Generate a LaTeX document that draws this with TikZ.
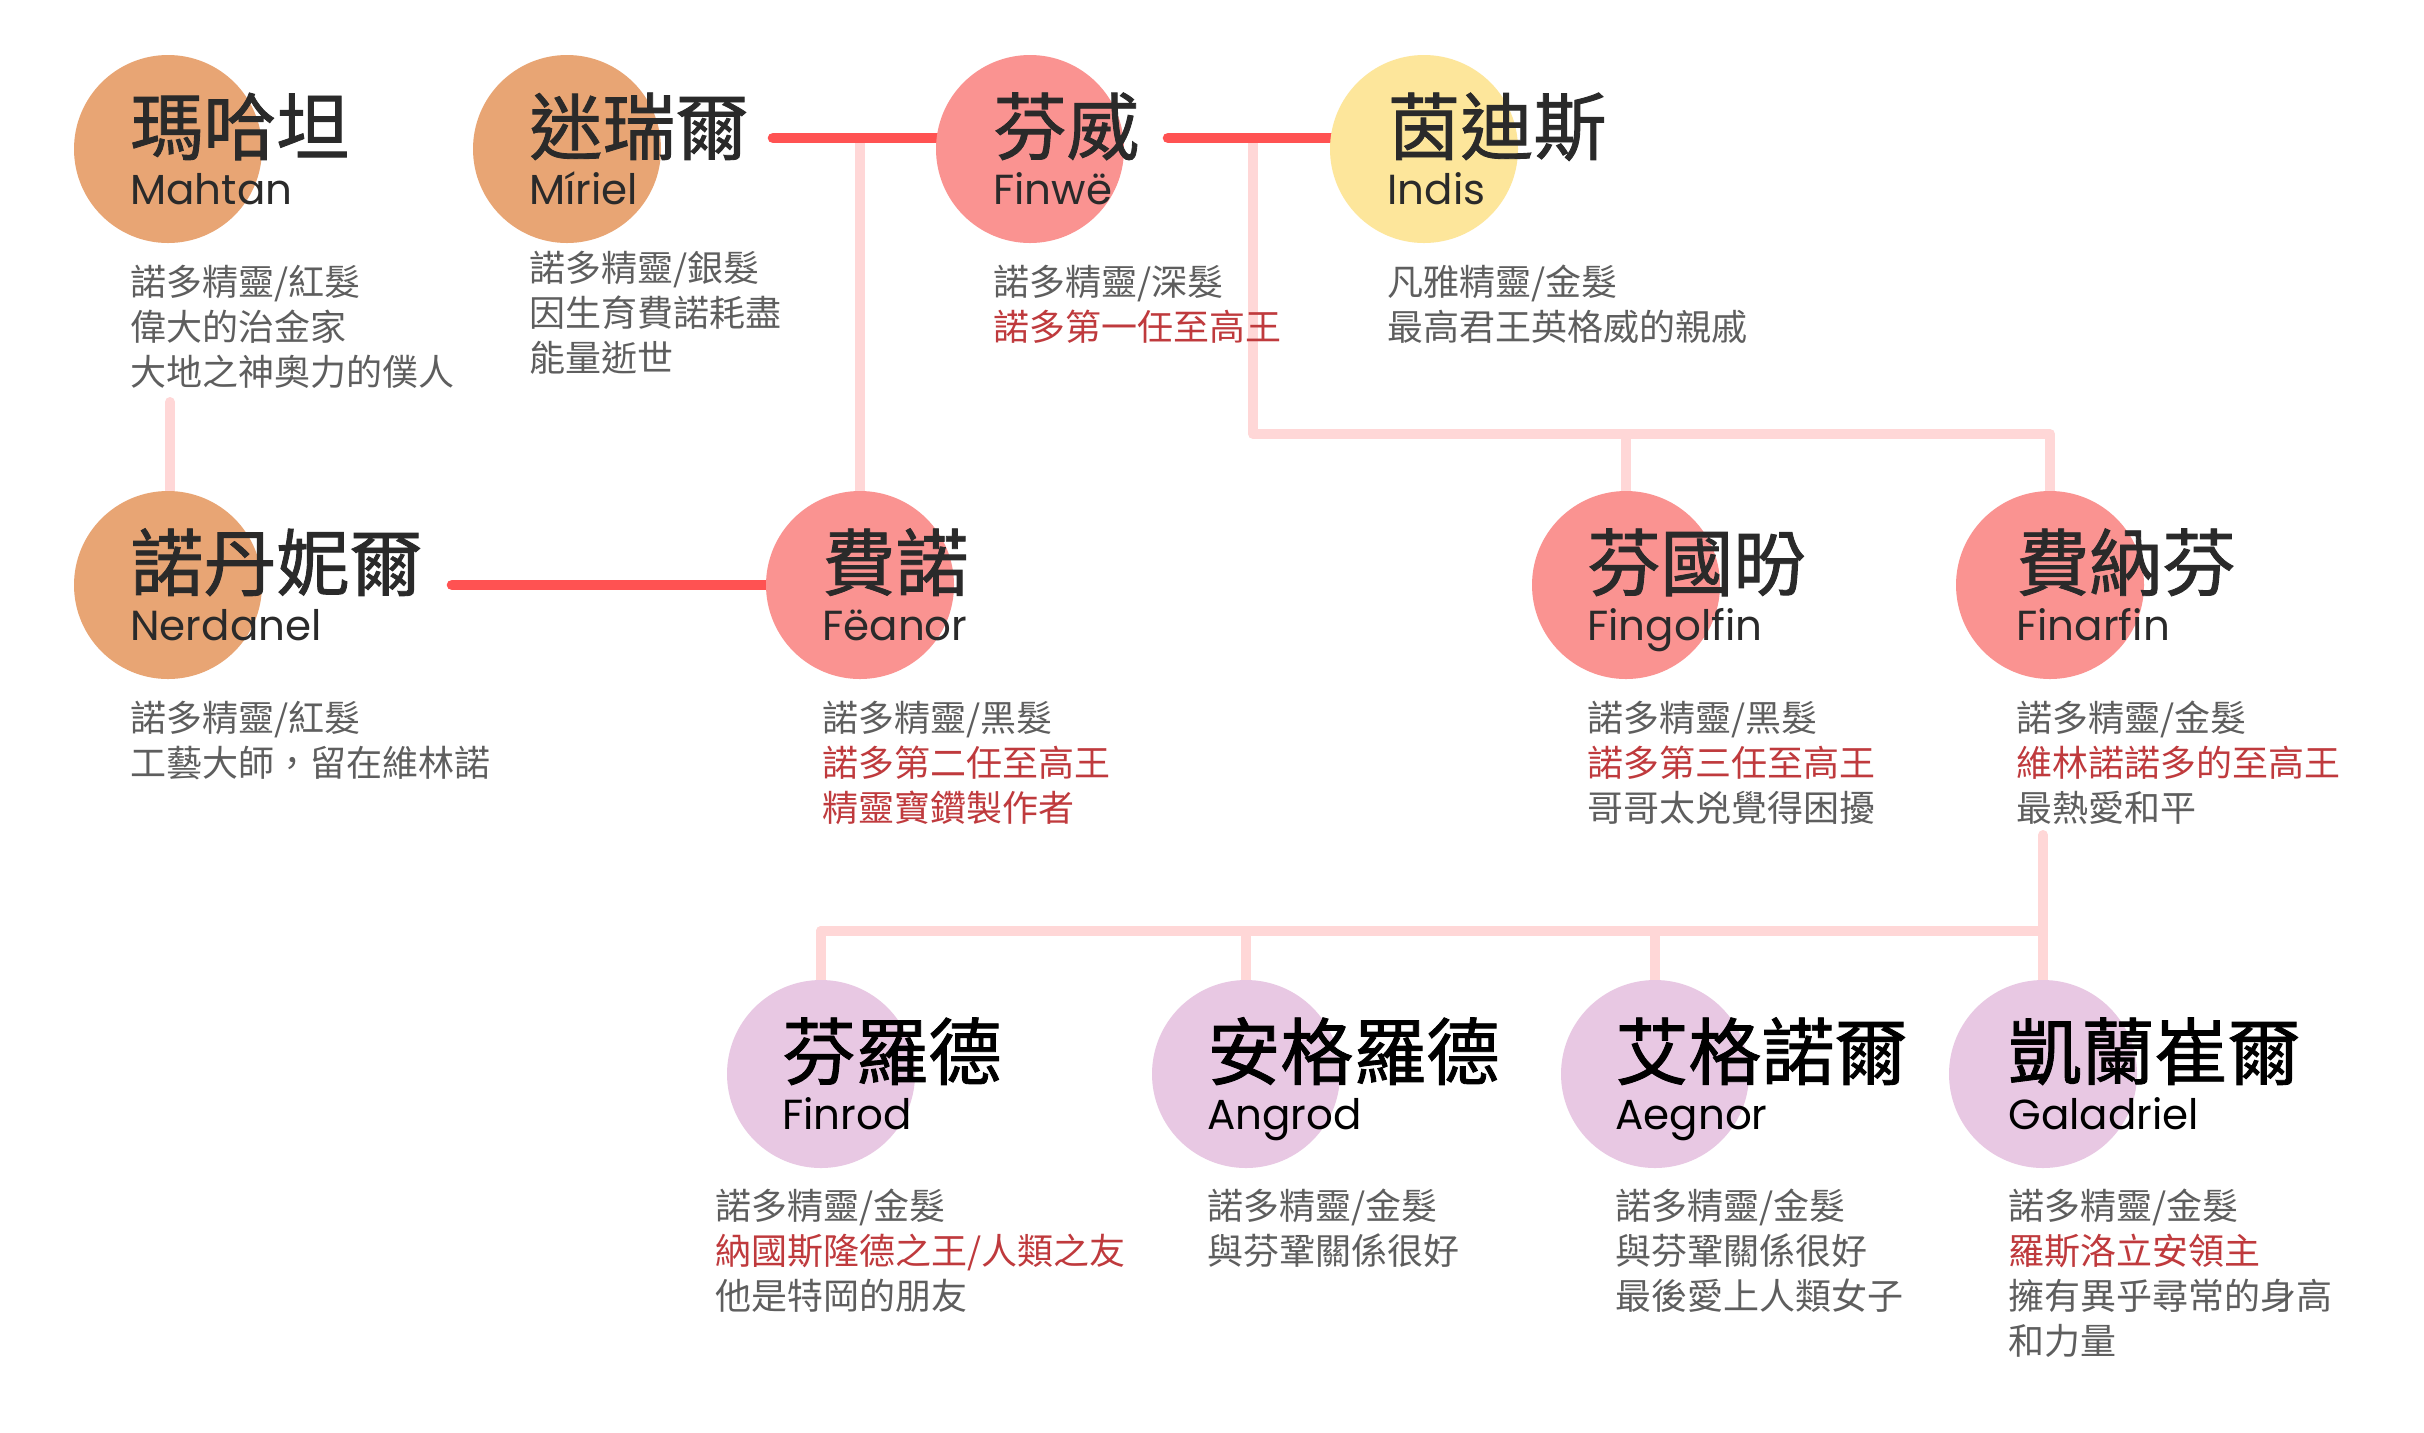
\documentclass[tikz,border=0pt]{standalone}
\usepackage{fontspec}
\newfontfamily\cjk{Noto Sans CJK TC}
\newfontfamily\cjktitle{Noto Sans CJK TC}[FakeBold=1.2]
\newfontfamily\latinname{Poppins}
\definecolor{corange}{HTML}{E8A574}
\definecolor{cpink}{HTML}{FA9391}
\definecolor{cyellow}{HTML}{FDE69B}
\definecolor{cpurple}{HTML}{E8C8E3}
\definecolor{lred}{HTML}{FF5252}
\definecolor{lpink}{HTML}{FFD7D7}
\definecolor{tred}{HTML}{BF3A3D}
\definecolor{tgray}{HTML}{5E5E5E}
\definecolor{tdark}{HTML}{2A2A2A}
\pgfdeclarelayer{lines}
\pgfsetlayers{lines,main}
\tikzset{
  circ/.style={circle, minimum size=94pt, inner sep=0pt, draw=none},
  ttl/.style={anchor=base west, inner sep=0pt, font=\cjktitle\fontsize{36.5}{40}\selectfont, text=tdark},
  nm/.style={anchor=base west, inner sep=0pt, font=\latinname\fontsize{21}{24}\selectfont, text=tdark},
  desc/.style={anchor=base west, inner sep=0pt, font=\cjk\fontsize{18}{22}\selectfont, text=tgray},
  redline/.style={draw=lred, line width=5.3pt, line cap=round},
  pinkline/.style={draw=lpink, line width=5pt, line cap=round, line join=round},
}
% #1 id, #2 cx, #3 cy, #4 fill, #5 text x, #6 title, #7 name
\newcommand\pperson[7]{%
  \node[circ, fill=#4] (#1) at (#2,#3) {};
  \node[ttl] (#1-t) at (#5,#3+5) {#6};
  \node[nm] (#1-n) at (#5,#3+55) {#7};
}
% #1 id, #2 x, #3 first baseline, #4 lines
\newcommand\pdesc[4]{%
  \foreach \t [count=\i] in {#4} {\node[desc] (#1-d\i) at (#2,{#3+45*(\i-1)}) {\t};}%
}
\begin{document}
\begin{tikzpicture}[x=0.5pt, y=-0.5pt]
\useasboundingbox (0,0) rectangle (2424,1432);

% row 1
\pperson{mahtan}{168}{149}{corange}{130}{瑪哈坦}{Mahtan}
\pdesc{mahtan}{130}{295}{諾多精靈/紅髮,偉大的治金家,大地之神奧力的僕人}
\pperson{miriel}{567}{149}{corange}{529}{迷瑞爾}{Míriel}
\pdesc{miriel}{529}{281}{諾多精靈/銀髮,因生育費諾耗盡,能量逝世}
\pperson{finwe}{1030}{149}{cpink}{993}{芬威}{Finwë}
\pdesc{finwe}{993}{295}{諾多精靈/深髮,\textcolor{tred}{諾多第一任至高王}}
\pperson{indis}{1424}{149}{cyellow}{1387}{茵迪斯}{Indis}
\pdesc{indis}{1387}{295}{凡雅精靈/金髮,最高君王英格威的親戚}

% row 2
\pperson{nerdanel}{168}{585}{corange}{130}{諾丹妮爾}{Nerdanel}
\pdesc{nerdanel}{130}{731}{諾多精靈/紅髮,工藝大師，留在維林諾}
\pperson{feanor}{860}{585}{cpink}{822}{費諾}{Fëanor}
\pdesc{feanor}{822}{731}{諾多精靈/黑髮,\textcolor{tred}{諾多第二任至高王},\textcolor{tred}{精靈寶鑽製作者}}
\pperson{fingolfin}{1626}{585}{cpink}{1587}{芬國昐}{Fingolfin}
\pdesc{fingolfin}{1587}{731}{諾多精靈/黑髮,\textcolor{tred}{諾多第三任至高王},哥哥太兇覺得困擾}
\pperson{finarfin}{2050}{585}{cpink}{2016}{費納芬}{Finarfin}
\pdesc{finarfin}{2016}{731}{諾多精靈/金髮,\textcolor{tred}{維林諾諾多的至高王},最熱愛和平}

% row 3
\colorlet{tdark}{black}
\pperson{finrod}{821}{1074}{cpurple}{782}{芬羅德}{Finrod}
\pdesc{finrod}{715}{1219}{諾多精靈/金髮,\textcolor{tred}{納國斯隆德之王/人類之友},他是特岡的朋友}
\pperson{angrod}{1246}{1074}{cpurple}{1207}{安格羅德}{Angrod}
\pdesc{angrod}{1207}{1219}{諾多精靈/金髮,與芬鞏關係很好}
\pperson{aegnor}{1655}{1074}{cpurple}{1615}{艾格諾爾}{Aegnor}
\pdesc{aegnor}{1615}{1219}{諾多精靈/金髮,與芬鞏關係很好,最後愛上人類女子}
\pperson{galadriel}{2043}{1074}{cpurple}{2008}{凱蘭崔爾}{Galadriel}
\pdesc{galadriel}{2008}{1219}{諾多精靈/金髮,\textcolor{tred}{羅斯洛立安領主},擁有異乎尋常的身高,和力量}

\begin{pgfonlayer}{lines}
  \fill[white] (0,0) rectangle (2424,1432);
  \coordinate (mfL) at (773,138);
  \coordinate (mfJ) at (860,138);
  \coordinate (fiL) at (1168,138);
  \coordinate (fiJ) at (1253,138);
  \coordinate (fiH) at (1253,434);
  \coordinate (fiR) at (2050,434);
  \coordinate (nfL) at (452,585);
  \coordinate (mnT) at (170,402);
  \coordinate (faT) at (2043,835);
  \coordinate (chL) at (821,931);
  % pink descent lines
  \draw[pinkline] (mfJ) -- (feanor);
  \draw[pinkline] (fiJ) -- (fiH) -- (fiR) -- (finarfin);
  \draw[pinkline] (fiH -| fingolfin) -- (fingolfin);
  \draw[pinkline] (mnT) -- (mnT |- nerdanel);
  \draw[pinkline] (faT) -- (galadriel);
  \draw[pinkline] (chL) -- (chL -| faT);
  \draw[pinkline] (chL) -- (finrod);
  \draw[pinkline] (chL -| angrod) -- (angrod);
  \draw[pinkline] (chL -| aegnor) -- (aegnor);
  % red marriage lines
  \draw[redline] (mfL) -- (mfL -| finwe);
  \draw[redline] (fiL) -- (fiL -| indis);
  \draw[redline] (nfL) -- (feanor);
\end{pgfonlayer}
\end{tikzpicture}
\end{document}
